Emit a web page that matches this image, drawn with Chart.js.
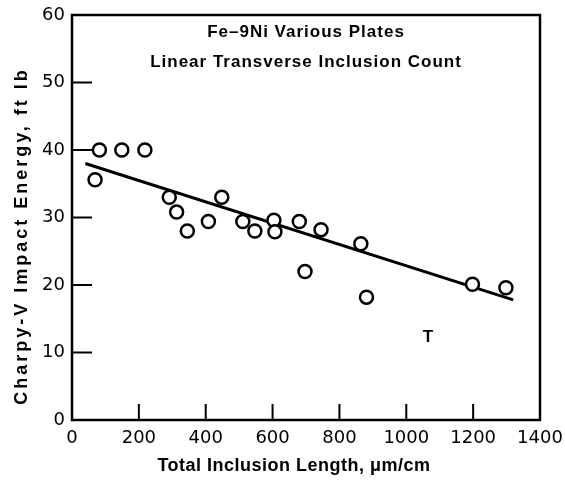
<!DOCTYPE html>
<html>
<head>
<meta charset="utf-8">
<script src="https://cdn.jsdelivr.net/npm/chart.js@4"></script>
<style>
  html, body { margin: 0; padding: 0; background: #fff; }
  #wrap { width: 565px; height: 480px; }
</style>
</head>
<body>
<div id="wrap"><canvas id="chart" width="565" height="480"></canvas></div>
<script>
// measured points: inclusion length (um/cm) vs Charpy-V energy (ft lb)
var inclusionLength = [82, 69, 149, 218, 291, 313, 345, 408, 448, 511, 547, 604, 607, 680, 697, 745, 864, 881, 1198, 1298];
var impactEnergy = [40.0, 35.6, 40.0, 40.0, 33.0, 30.8, 28.0, 29.4, 33.0, 29.4, 28.0, 29.6, 27.9, 29.4, 22.0, 28.2, 26.1, 18.2, 20.1, 19.6];

// fitted trend line end points
var fitX = [40, 1320];
var fitY = [38.0, 17.8];

// axis ticks
var xTicks = [0, 200, 400, 600, 800, 1000, 1200, 1400];
var yTicks = [0, 10, 20, 30, 40, 50, 60];

// text
var titleLines = ['Fe\u20139Ni Various Plates', 'Linear Transverse Inclusion Count'];
var xTitle = 'Total Inclusion Length, \u03bcm/cm';
var yTitle = 'Charpy-V Impact Energy, ft lb';
var markLabel = { text: 'T', x: 1065, y: 12.2 };

var scatterPts = inclusionLength.map(function (x, i) { return { x: x, y: impactEnergy[i] }; });
var fitPts = fitX.map(function (x, i) { return { x: x, y: fitY[i] }; });

var boldFont = '"Liberation Sans", Arial, sans-serif';

// box, inward ticks, titles and the T label
var framePlugin = {
  id: 'frame',
  afterDraw: function (chart) {
    var ctx = chart.ctx;
    var a = chart.chartArea;
    var xs = chart.scales.x, ys = chart.scales.y;
    ctx.save();
    ctx.strokeStyle = '#000';
    ctx.lineWidth = 2.5;
    ctx.strokeRect(a.left, a.top, a.right - a.left, a.bottom - a.top);
    ctx.lineWidth = 2;
    ctx.beginPath();
    xTicks.forEach(function (v) {
      var px = xs.getPixelForValue(v);
      ctx.moveTo(px, a.bottom);
      ctx.lineTo(px, a.bottom - 16);
    });
    yTicks.forEach(function (v) {
      var py = ys.getPixelForValue(v);
      ctx.moveTo(a.left, py);
      ctx.lineTo(a.left + 20, py);
    });
    ctx.stroke();

    ctx.fillStyle = '#000';
    ctx.textAlign = 'center';
    ctx.textBaseline = 'middle';
    var cx = (a.left + a.right) / 2;
    ctx.font = 'bold 17px ' + boldFont;
    ctx.letterSpacing = '1px';
    ctx.fillText(titleLines[0], cx, a.top + 17);
    ctx.fillText(titleLines[1], cx, a.top + 47);

    ctx.font = 'bold 18px ' + boldFont;
    ctx.letterSpacing = '0.5px';
    ctx.fillText(xTitle, cx - 12, 466);

    ctx.save();
    ctx.translate(22, 236);
    ctx.rotate(-Math.PI / 2);
    ctx.letterSpacing = '3px';
    ctx.fillText(yTitle, 0, 0);
    ctx.restore();

    ctx.letterSpacing = '0px';
    ctx.font = 'bold 17px ' + boldFont;
    ctx.fillText(markLabel.text, xs.getPixelForValue(markLabel.x), ys.getPixelForValue(markLabel.y));
    ctx.restore();
  }
};

var ctx = document.getElementById('chart').getContext('2d');
var chart = new Chart(ctx, {
  type: 'scatter',
  data: {
    datasets: [
      {
        data: scatterPts,
        pointRadius: 6.5,
        pointHoverRadius: 6.5,
        pointBorderWidth: 2.5,
        pointBackgroundColor: '#fff',
        pointBorderColor: '#000',
        showLine: false,
        order: 1
      },
      {
        data: fitPts,
        showLine: true,
        borderColor: '#000',
        borderWidth: 3,
        pointRadius: 0,
        order: 2
      }
    ]
  },
  plugins: [framePlugin],
  options: {
    responsive: false,
    animation: false,
    layout: { padding: 0 },
    plugins: { legend: { display: false }, tooltip: { enabled: false } },
    scales: {
      x: {
        type: 'linear',
        min: 0,
        max: 1400,
        afterBuildTicks: function (s) { s.ticks = xTicks.map(function (v) { return { value: v }; }); },
        afterFit: function (s) { s.height = 60; s.paddingRight = 25; s.paddingLeft = 0; },
        grid: { display: false, drawTicks: false },
        border: { display: false },
        ticks: {
          padding: 8,
          color: '#000',
          maxRotation: 0,
          callback: function (v) { return String(v); },
          font: { family: '"DejaVu Sans", sans-serif', size: 18 }
        }
      },
      y: {
        min: 0,
        max: 60,
        afterBuildTicks: function (s) { s.ticks = yTicks.map(function (v) { return { value: v }; }); },
        afterFit: function (s) { s.width = 72; s.paddingTop = 15; s.paddingBottom = 0; },
        grid: { display: false, drawTicks: false },
        border: { display: false },
        ticks: {
          padding: 7,
          color: '#000',
          callback: function (v) { return String(v); },
          font: { family: '"DejaVu Sans", sans-serif', size: 18 }
        }
      }
    }
  }
});
</script>
</body>
</html>
